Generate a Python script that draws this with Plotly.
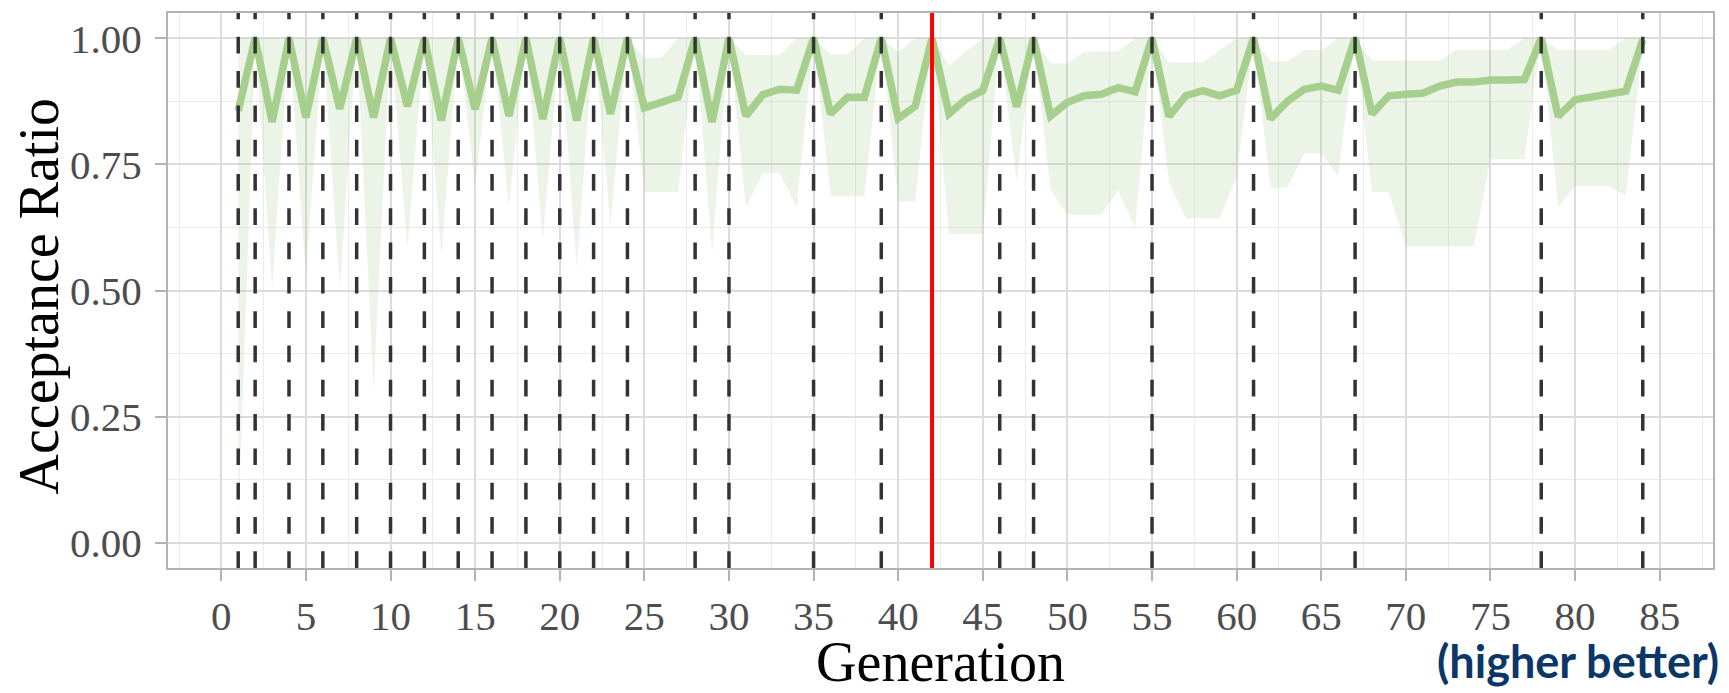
import plotly.graph_objects as go

generations = list(range(1, 85))

mean_ratio = [
    0.856, 1.000, 0.834, 1.000, 0.843, 1.000, 0.860, 1.000, 0.843, 1.000,
    0.865, 1.000, 0.837, 1.000, 0.859, 1.000, 0.846, 1.000, 0.840, 1.000,
    0.837, 1.000, 0.850, 1.000, 0.862, 0.872, 0.884, 1.000, 0.834, 1.000,
    0.846, 0.888, 0.899, 0.897, 1.000, 0.850, 0.883, 0.883, 1.000, 0.841,
    0.865, 1.000, 0.850, 0.879, 0.896, 1.000, 0.864, 1.000, 0.846, 0.873,
    0.886, 0.889, 0.902, 0.894, 1.000, 0.845, 0.886, 0.896, 0.886, 0.897,
    1.000, 0.840, 0.875, 0.899, 0.905, 0.897, 1.000, 0.850, 0.886, 0.889,
    0.891, 0.905, 0.913, 0.913, 0.917, 0.917, 0.918, 1.000, 0.845, 0.878,
    0.884, 0.889, 0.895, 0.997,
]

upper_ratio = [
    1.000, 1.000, 1.000, 1.000, 1.000, 1.000, 1.000, 1.000, 1.000, 1.000,
    1.000, 1.000, 1.000, 1.000, 1.000, 1.000, 1.000, 1.000, 1.000, 1.000,
    1.000, 1.000, 1.000, 1.000, 0.961, 0.961, 1.000, 1.000, 1.000, 1.000,
    0.967, 0.967, 0.967, 1.000, 1.000, 0.968, 0.968, 1.000, 1.000, 0.972,
    1.000, 1.000, 0.946, 0.973, 1.000, 1.000, 1.000, 1.000, 0.950, 0.950,
    0.973, 0.973, 0.974, 1.000, 1.000, 0.952, 0.952, 0.952, 0.976, 1.000,
    1.000, 0.954, 0.954, 0.976, 0.976, 1.000, 1.000, 0.956, 0.956, 0.956,
    0.956, 0.956, 0.977, 0.977, 0.977, 0.977, 1.000, 1.000, 0.977, 0.977,
    0.977, 0.977, 1.000, 1.000,
]

lower_ratio = [
    0.030, 1.000, 0.505, 1.000, 0.530, 1.000, 0.505, 1.000, 0.303, 1.000,
    0.584, 1.000, 0.571, 1.000, 0.707, 1.000, 0.666, 1.000, 0.600, 1.000,
    0.543, 1.000, 0.631, 1.000, 0.695, 0.695, 0.695, 1.000, 0.575, 1.000,
    0.666, 0.733, 0.733, 0.666, 1.000, 0.688, 0.688, 0.688, 1.000, 0.677,
    0.677, 1.000, 0.612, 0.612, 0.612, 1.000, 0.714, 1.000, 0.701, 0.650,
    0.650, 0.650, 0.698, 0.625, 1.000, 0.714, 0.643, 0.643, 0.643, 0.726,
    1.000, 0.704, 0.704, 0.772, 0.772, 0.726, 1.000, 0.695, 0.695, 0.587,
    0.587, 0.587, 0.587, 0.587, 0.760, 0.760, 0.760, 1.000, 0.666, 0.707,
    0.707, 0.707, 0.688, 0.990,
]

marker_generations = [1, 2, 4, 6, 8, 10, 12, 14, 16, 18, 20, 22, 24, 28, 30,
                      35, 39, 46, 48, 55, 61, 67, 78, 84]
highlight_generation = 42

x_tick_values = [0, 5, 10, 15, 20, 25, 30, 35, 40, 45, 50, 55, 60, 65, 70, 75, 80, 85]
y_tick_values = [0.0, 0.25, 0.5, 0.75, 1.0]
y_tick_labels = ["0.00", "0.25", "0.50", "0.75", "1.00"]

SERIF = "Liberation Serif, Times New Roman, serif"
GREEN = "rgb(166,206,140)"

fig = go.Figure()

fig.add_trace(go.Scatter(
    x=generations, y=lower_ratio, mode="lines",
    line=dict(width=0, color=GREEN), showlegend=False, hoverinfo="skip",
))
fig.add_trace(go.Scatter(
    x=generations, y=upper_ratio, mode="lines", fill="tonexty",
    fillcolor="rgba(166,206,140,0.22)",
    line=dict(width=0, color=GREEN), showlegend=False, hoverinfo="skip",
))
fig.add_trace(go.Scatter(
    x=generations, y=mean_ratio, mode="lines",
    line=dict(width=7.5, color=GREEN), showlegend=False,
))

for g in marker_generations:
    fig.add_shape(
        type="line", xref="x", yref="y domain",
        x0=g, x1=g, y0=0, y1=1,
        line=dict(color="#333333", width=3.5, dash="16.7px,17.6px"),
        layer="above",
    )

fig.add_shape(
    type="line", xref="x", yref="y domain",
    x0=highlight_generation, x1=highlight_generation, y0=0, y1=1,
    line=dict(color="#ff0000", width=4),
    layer="above",
)

axis_common = dict(
    showline=True, mirror=True, linecolor="#b3b3b3", linewidth=2,
    ticks="outside", ticklen=11, tickwidth=2, tickcolor="#b3b3b3",
    showgrid=True, gridcolor="#dcdcdc", gridwidth=2,
    zeroline=False,
    tickfont=dict(family=SERIF, size=41, color="#4d4d4d"),
)

fig.update_xaxes(
    **axis_common,
    range=[-3.15, 88.15],
    tickvals=x_tick_values,
    minor=dict(dtick=2.5, tick0=0, showgrid=True, gridcolor="#ebebeb", gridwidth=1, ticks=""),
    title=dict(text="Generation", font=dict(family=SERIF, size=56, color="black"), standoff=4),
)
fig.update_yaxes(
    **axis_common,
    range=[-0.05, 1.05],
    tickvals=y_tick_values,
    ticktext=y_tick_labels,
    ticklabelstandoff=5,
    minor=dict(dtick=0.125, tick0=0, showgrid=True, gridcolor="#ebebeb", gridwidth=1, ticks=""),
)

fig.add_annotation(
    text="Acceptance Ratio", xref="paper", yref="paper",
    x=-0.0832, y=0.49, xanchor="center", yanchor="middle", textangle=-90,
    showarrow=False,
    font=dict(family=SERIF, size=56, color="black"),
)

fig.add_annotation(
    text="<b>(higher better)</b>", xref="paper", yref="paper",
    x=1.0052, y=-0.168, xanchor="right", yanchor="middle",
    showarrow=False,
    font=dict(family="Lato, Noto Sans, sans-serif", size=45, color="#0a3766"),
)

fig.update_layout(
    width=1729, height=693,
    margin=dict(l=168, r=16, t=11, b=105),
    paper_bgcolor="white", plot_bgcolor="white",
    showlegend=False,
)

fig.write_html(
    "out.html",
    config={"displayModeBar": False},
    post_script="document.body.style.margin='0';document.body.style.overflow='hidden';",
)
